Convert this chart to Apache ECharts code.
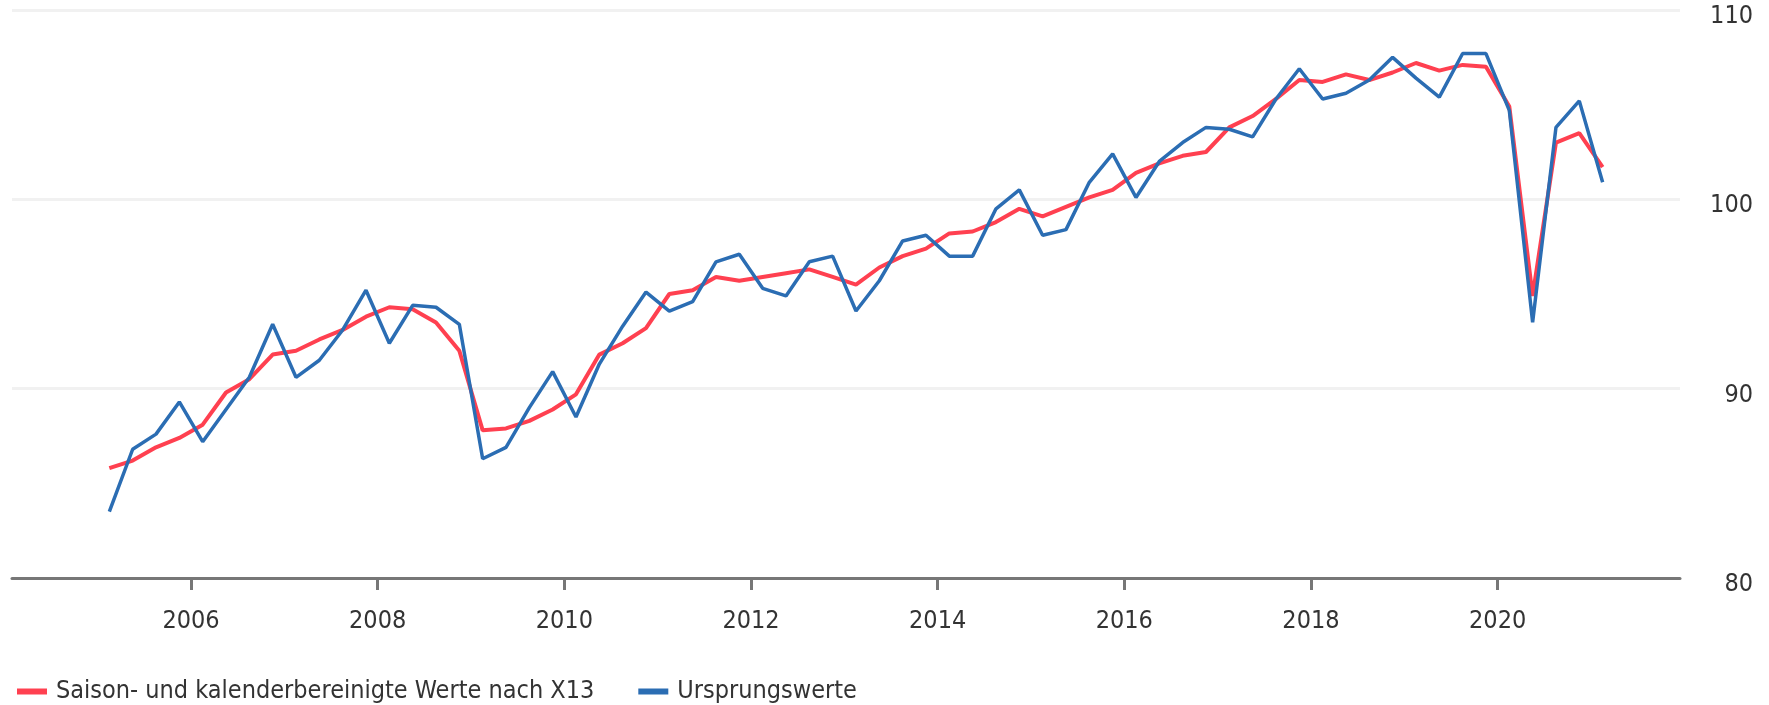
<!DOCTYPE html>
<html>
<head>
<meta charset="utf-8">
<script src="https://cdn.jsdelivr.net/npm/echarts@6/dist/echarts.min.js"></script>
<style>
html,body{margin:0;padding:0;background:#fff;}
#chart{width:1769px;height:705px;}
</style>
</head>
<body>
<div id="chart"></div>
<script>
// Quarters 2005 Q1 .. 2021 Q1
const startYear = 2005;
const quarterCount = 65;
const quarters = [];
for (let i = 0; i < quarterCount; i++) {
  quarters.push({ year: startYear + Math.floor(i / 4), q: (i % 4) + 1 });
}

const seriesNames = ['Saison- und kalenderbereinigte Werte nach X13', 'Ursprungswerte'];

const bereinigt = [
  85.8, 86.2, 86.9, 87.4,
  88.1, 89.8, 90.5, 91.8,
  92.0, 92.6, 93.1, 93.8,
  94.3, 94.2, 93.5, 92.0,
  87.8, 87.9, 88.3, 88.9,
  89.7, 91.8, 92.4, 93.2,
  95.0, 95.2, 95.9, 95.7,
  95.9, 96.1, 96.3, 95.9,
  95.5, 96.4, 97.0, 97.4,
  98.2, 98.3, 98.8, 99.5,
  99.1, 99.6, 100.1, 100.5,
  101.4, 101.9, 102.3, 102.5,
  103.8, 104.4, 105.3, 106.3,
  106.2, 106.6, 106.3, 106.7,
  107.2, 106.8, 107.1, 107.0,
  104.9, 94.9, 103.0, 103.5,
  101.7
];

const ursprung = [
  83.5, 86.8, 87.6, 89.3,
  87.2, 88.9, 90.6, 93.4,
  90.6, 91.5, 93.1, 95.2,
  92.4, 94.4, 94.3, 93.4,
  86.3, 86.9, 89.0, 90.9,
  88.5, 91.3, 93.3, 95.1,
  94.1, 94.6, 96.7, 97.1,
  95.3, 94.9, 96.7, 97.0,
  94.1, 95.7, 97.8, 98.1,
  97.0, 97.0, 99.5, 100.5,
  98.1, 98.4, 100.9, 102.4,
  100.1, 102.0, 103.0, 103.8,
  103.7, 103.3, 105.3, 106.9,
  105.3, 105.6, 106.3, 107.5,
  106.4, 105.4, 107.7, 107.7,
  104.7, 93.5, 103.8, 105.2,
  100.9
];

const xTickYears = [2006, 2008, 2010, 2012, 2014, 2016, 2018, 2020];
const yTicks = [80, 90, 100, 110];

// mid-quarter position as decimal year
function qPos(o) { return o.year + 0.125 + 0.25 * (o.q - 1); }

const font = "'Liberation Sans Narrow', 'DejaVu Sans Condensed', 'Arial Narrow', sans-serif";
const RED = '#ff4050';
const BLUE = '#2b6db3';

const chart = echarts.init(document.getElementById('chart'), null, { renderer: 'canvas' });
chart.setOption({
  animation: false,
  backgroundColor: '#ffffff',
  grid: { left: 12, right: 89, top: 10, bottom: 127, containLabel: false },
  legend: {
    left: 12,
    top: 674,
    itemWidth: 30,
    itemHeight: 6,
    itemGap: 44,
    icon: 'rect',
    textStyle: { fontFamily: font, fontSize: 25, color: '#333', padding: [0, 0, 0, 4] },
    data: seriesNames
  },
  xAxis: {
    type: 'value',
    min: 2004.082,
    max: 2021.954,
    axisLine: { show: true, lineStyle: { color: '#777', width: 3 } },
    axisTick: { show: true, length: 12, lineStyle: { color: '#777', width: 3 }, customValues: xTickYears },
    axisLabel: {
      customValues: xTickYears,
      formatter: v => String(Math.round(v)),
      fontFamily: font, fontSize: 25, color: '#333', margin: 31
    },
    splitLine: { show: false }
  },
  yAxis: {
    type: 'value',
    position: 'right',
    min: yTicks[0],
    max: yTicks[yTicks.length - 1],
    interval: 10,
    axisLine: { show: false },
    axisTick: { show: false },
    axisLabel: {
      align: 'right', margin: 73,
      formatter: v => '{v|' + v + '}',
      rich: {
        v: { fontFamily: font, fontSize: 25, color: '#333', padding: [13, 0, 0, 0] }
      }
    },
    splitLine: { show: true, lineStyle: { color: '#f1f1f1', width: 3 } }
  },
  series: [
    {
      name: seriesNames[0],
      type: 'line',
      showSymbol: false,
      symbol: 'none',
      color: RED,
      lineStyle: { color: RED, width: 4 },
      data: quarters.map((o, i) => [qPos(o), bereinigt[i]]),
      z: 2
    },
    {
      name: seriesNames[1],
      type: 'line',
      showSymbol: false,
      symbol: 'none',
      color: BLUE,
      lineStyle: { color: BLUE, width: 3.5 },
      data: quarters.map((o, i) => [qPos(o), ursprung[i]]),
      z: 3
    }
  ]
});
</script>
</body>
</html>
